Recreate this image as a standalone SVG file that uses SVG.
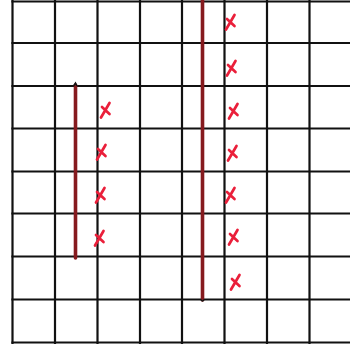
<svg xmlns="http://www.w3.org/2000/svg" width="350" height="345" viewBox="0 0 350 345">
<style>
.grid{stroke:#111111;stroke-width:2.2;fill:none;stroke-linecap:square}
.bar{stroke:#861a1e;stroke-width:3.6;fill:none;stroke-linecap:round}
.x{stroke:#ea1f3a;stroke-width:2.7;fill:none;stroke-linecap:round}
</style>
<defs>
<g id="xmark">
<path class="x" d="M4.5,-7 L-4,7.5 M-3,-3 L4.5,4"/>
</g>
</defs>
<rect width="350" height="345" fill="#ffffff"/>
<g id="grid" class="grid">
<path d="M12.5,1 V343 M55,1 V343 M97.5,1 V343 M140,1 V343 M182,1 V343 M224.5,1 V343 M267,1 V343 M309.5,1 V343"/>
<path d="M12.5,1.5 H350 M12.5,43 H350 M12.5,86 H350 M12.5,128.5 H350 M12.5,171.5 H350 M12.5,213.5 H350 M12.5,256.5 H350 M12.5,299.5 H350 M12.5,342.5 H350"/>
</g>
<g id="bars">
<line class="bar" x1="75.5" y1="85" x2="75.5" y2="258"/>
<line class="bar" x1="202.5" y1="0" x2="202.5" y2="300"/>
<path d="M73.5,86 L75.5,83 L77,86" stroke="#141414" stroke-width="1.5" fill="none"/>
<path d="M200.5,299 Q202.5,303 204.5,299" stroke="#141414" stroke-width="1.5" fill="none"/>
</g>
<g id="marks-left">
<use href="#xmark" x="105" y="110"/>
<use href="#xmark" x="101" y="152"/>
<use href="#xmark" x="100" y="195"/>
<use href="#xmark" x="99" y="238"/>
</g>
<g id="marks-right">
<use href="#xmark" x="230" y="22"/>
<use href="#xmark" x="231" y="68"/>
<use href="#xmark" x="233" y="111"/>
<use href="#xmark" x="232" y="153"/>
<use href="#xmark" x="230" y="195"/>
<use href="#xmark" x="233" y="237"/>
<use href="#xmark" x="235" y="282"/>
</g>
</svg>
